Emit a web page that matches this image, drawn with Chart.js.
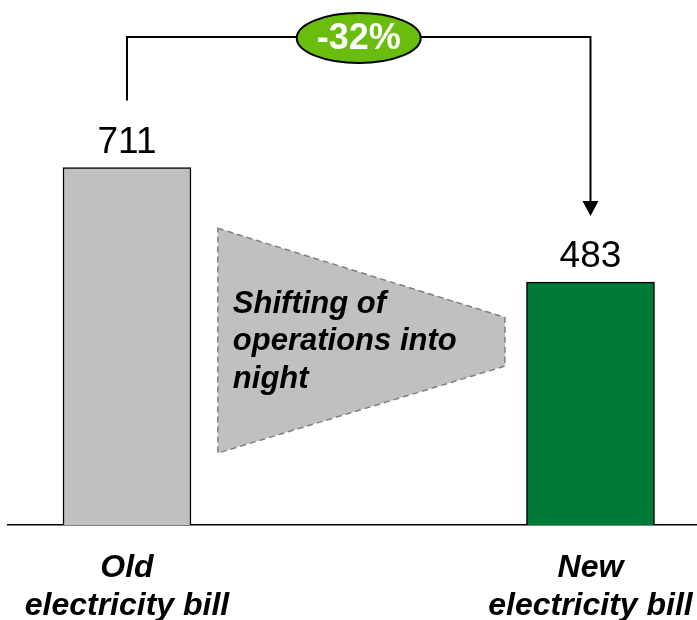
<!DOCTYPE html>
<html>
<head>
<meta charset="utf-8">
<script src="https://cdn.jsdelivr.net/npm/chart.js@4"></script>
<style>
  html, body { margin: 0; padding: 0; background: #fff; }
  #wrap { width: 697px; height: 620px; position: relative; }
</style>
</head>
<body>
<div id="wrap"><canvas id="chart"></canvas></div>
<script>
const categories = [['Old', 'electricity bill'], ['New', 'electricity bill']];
const positions = [0, 1];
const bills = [711, 483];
const barColors = ['#c0c0c0', '#007a37'];
const shiftText = ['Shifting of', 'operations into', 'night'];

const FONT = 'Arial, "Liberation Sans", Helvetica, sans-serif';

/**
 * Extra drawing: value labels, the shifting funnel and the change bracket
 */
const billDecor = {
  id: 'billDecor',
  beforeDatasetsDraw(chart) {
    const { ctx, scales: { x, y } } = chart;
    // Funnel between the two bars
    const l = x.getPixelForValue(0.196);
    const r = x.getPixelForValue(0.8155);
    const pts = [
      [l, y.getPixelForValue(590)],
      [r, y.getPixelForValue(413)],
      [r, y.getPixelForValue(316)],
      [l, y.getPixelForValue(143)],
    ];
    ctx.save();
    ctx.beginPath();
    pts.forEach(([px, py], i) => (i ? ctx.lineTo(px, py) : ctx.moveTo(px, py)));
    ctx.closePath();
    ctx.fillStyle = '#c0c0c0';
    ctx.fill();
    ctx.setLineDash([6, 4]);
    ctx.lineWidth = 1.5;
    ctx.strokeStyle = '#808080';
    ctx.stroke();
    ctx.setLineDash([]);

    const mid = (pts[0][1] + pts[3][1]) / 2;
    ctx.font = 'italic bold 31px ' + FONT;
    ctx.fillStyle = '#000';
    ctx.textAlign = 'left';
    ctx.textBaseline = 'middle';
    shiftText.forEach((line, i) => {
      ctx.fillText(line, l + 15, mid + 1 + (i - 1) * 37.5);
    });
    ctx.restore();
  },
  afterDatasetsDraw(chart) {
    const { ctx } = chart;
    const bars = chart.getDatasetMeta(0).data;
    ctx.save();

    // Values above the bars
    ctx.font = '37px ' + FONT;
    ctx.fillStyle = '#000';
    ctx.textAlign = 'center';
    ctx.textBaseline = 'middle';
    bars.forEach((bar, i) => ctx.fillText(String(bills[i]), bar.x, bar.y - 25));

    // Bracket from old bill to new bill
    const topY = 37;
    const x1 = bars[0].x;
    const x2 = bars[1].x;
    const tipY = bars[1].y - 66;
    ctx.strokeStyle = '#000';
    ctx.lineWidth = 2;
    ctx.beginPath();
    ctx.moveTo(x1, bars[0].y - 67);
    ctx.lineTo(x1, topY);
    ctx.lineTo(x2, topY);
    ctx.lineTo(x2, tipY - 12);
    ctx.stroke();
    ctx.fillStyle = '#000';
    ctx.beginPath();
    ctx.moveTo(x2, tipY);
    ctx.lineTo(x2 - 8, tipY - 15);
    ctx.lineTo(x2 + 8, tipY - 15);
    ctx.closePath();
    ctx.fill();

    // Percentage change badge
    const cx = (x1 + x2) / 2;
    ctx.beginPath();
    ctx.ellipse(cx, topY + 1, 62, 25, 0, 0, Math.PI * 2);
    ctx.fillStyle = '#6abd0c';
    ctx.fill();
    ctx.lineWidth = 2;
    ctx.stroke();
    const change = Math.round(((bills[1] - bills[0]) / bills[0]) * 100);
    ctx.font = 'bold 36px ' + FONT;
    ctx.fillStyle = '#fff';
    ctx.fillText(change + '%', cx, topY + 2);
    ctx.restore();
  },
};

const ctx = document.getElementById('chart').getContext('2d');
const chart = new Chart(ctx, {
  type: 'bar',
  data: {
    datasets: [
      {
        data: positions.map((p, i) => ({ x: p, y: bills[i] })),
        backgroundColor: barColors,
        borderColor: '#000',
        borderWidth: 1.5,
        barThickness: 128,
      },
    ],
  },
  options: {
    responsive: true,
    maintainAspectRatio: false,
    animation: false,
    layout: { padding: { left: 8, right: 0, top: 0, bottom: 0 } },
    plugins: { legend: { display: false }, tooltip: { enabled: false } },
    scales: {
      x: {
        type: 'linear',
        offset: false,
        min: -0.2567,
        max: 1.2298,
        grid: { display: false, drawTicks: false, offset: false },
        border: { display: true, color: '#000', width: 1.5 },
        afterFit: (scale) => {
          // fixed band for the two-line labels, no side padding
          scale.height = 95;
          scale.paddingLeft = 0;
          scale.paddingRight = 0;
        },
        ticks: {
          stepSize: 1,
          includeBounds: false,
          padding: 24,
          color: '#000',
          font: { family: FONT, size: 32, style: 'italic', weight: 'bold', lineHeight: 1.2 },
          callback: (value) => categories[value] || '',
        },
      },
      y: {
        display: false,
        min: 0,
        max: 1044,
      },
    },
  },
  plugins: [billDecor],
});
</script>
</body>
</html>
